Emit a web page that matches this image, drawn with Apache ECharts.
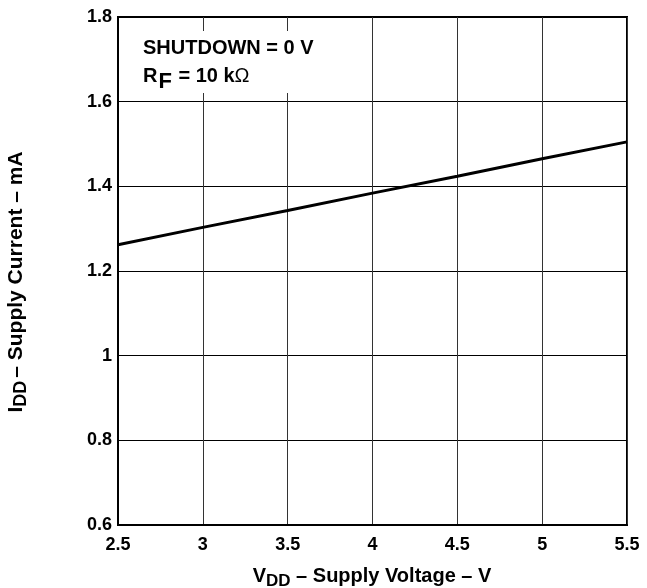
<!DOCTYPE html>
<html>
<head>
<meta charset="utf-8">
<script src="https://cdn.jsdelivr.net/npm/echarts@6/dist/echarts.min.js"></script>
<style>
html,body{margin:0;padding:0;background:#fff;}
#c{width:647px;height:588px;}
</style>
</head>
<body>
<div id="c"></div>
<script>
const vddValues = [2.5, 3, 3.5, 4, 4.5, 5, 5.5];
const iddValues = [1.262, 1.303, 1.343, 1.384, 1.424, 1.465, 1.505];
const xTicks = {min: 2.5, max: 5.5, interval: 0.5};
const yTicks = {min: 0.6, max: 1.8, interval: 0.2};

const FONT = '"Liberation Sans", Arial, Helvetica, sans-serif';
const chart = echarts.init(document.getElementById('c'));

const option = {
  backgroundColor: '#fff',
  animation: false,
  grid: {left: 118, right: 20, top: 17, bottom: 63, show: true, borderColor: '#000', borderWidth: 2, backgroundColor: 'transparent'},
  xAxis: {
    type: 'value', min: xTicks.min, max: xTicks.max, interval: xTicks.interval,
    axisLine: {show: true, lineStyle: {color: '#000', width: 2}},
    axisTick: {show: false},
    axisLabel: {color: '#000', fontFamily: FONT, fontWeight: 'bold', fontSize: 18, margin: 11},
    splitLine: {show: true, lineStyle: {color: '#333', width: 1}}
  },
  yAxis: {
    type: 'value', min: yTicks.min, max: yTicks.max, interval: yTicks.interval,
    axisLine: {show: true, lineStyle: {color: '#000', width: 2}},
    axisTick: {show: false},
    axisLabel: {color: '#000', fontFamily: FONT, fontWeight: 'bold', fontSize: 18, margin: 6},
    splitLine: {show: true, lineStyle: {color: '#000', width: 1}}
  },
  graphic: [
    {type: 'rect', z: 10, shape: {x: 120, y: 31, width: 225, height: 62}, style: {fill: '#fff'}},
    {type: 'text', z: 11, left: 143, top: 38, style: {
      text: '{m|SHUTDOWN = 0 V}', fill: '#000',
      rich: {m: {fontFamily: FONT, fontWeight: 'bold', fontSize: 20}}
    }},
    {type: 'text', z: 11, left: 143, top: 66, style: {
      text: '{m|R}{s|F}{m| = 10 k}{o|Ω}', fill: '#000',
      rich: {
        m: {fontFamily: FONT, fontWeight: 'bold', fontSize: 20, lineHeight: 22, verticalAlign: 'bottom', padding: [0, 0, 7, 0]},
        o: {fontFamily: FONT, fontWeight: 'normal', fontSize: 20, lineHeight: 22, verticalAlign: 'bottom', padding: [0, 0, 7, 0]},
        s: {fontFamily: FONT, fontWeight: 'bold', fontSize: 22, lineHeight: 22, verticalAlign: 'bottom', padding: [0, 1, 0, 1]}
      }
    }},
    {type: 'text', z: 11, x: 372, y: 580, style: {
      text: '{m|V}{s|DD}{m| – Supply Voltage – V}', fill: '#000', align: 'center', verticalAlign: 'middle',
      rich: {
        m: {fontFamily: FONT, fontWeight: 'bold', fontSize: 20, lineHeight: 20, verticalAlign: 'bottom', padding: [0, 0, 4, 0]},
        s: {fontFamily: FONT, fontWeight: 'bold', fontSize: 17, lineHeight: 20, verticalAlign: 'bottom'}
      }
    }},
    {type: 'text', z: 11, x: 20, y: 282, rotation: Math.PI / 2, style: {
      text: '{m|I}{s|DD}{m|– Supply Current – mA}', fill: '#000', align: 'center', verticalAlign: 'middle',
      rich: {
        m: {fontFamily: FONT, fontWeight: 'bold', fontSize: 21, lineHeight: 21, verticalAlign: 'bottom', padding: [0, 0, 4, 0]},
        s: {fontFamily: FONT, fontWeight: 'bold', fontSize: 18, lineHeight: 21, verticalAlign: 'bottom', padding: [0, 3, 0, 0]}
      }
    }}
  ],
  series: [{
    type: 'line', data: vddValues.map((v, i) => [v, iddValues[i]]),
    showSymbol: false, lineStyle: {color: '#000', width: 3}, z: 5
  }]
};
chart.setOption(option);
</script>
</body>
</html>
